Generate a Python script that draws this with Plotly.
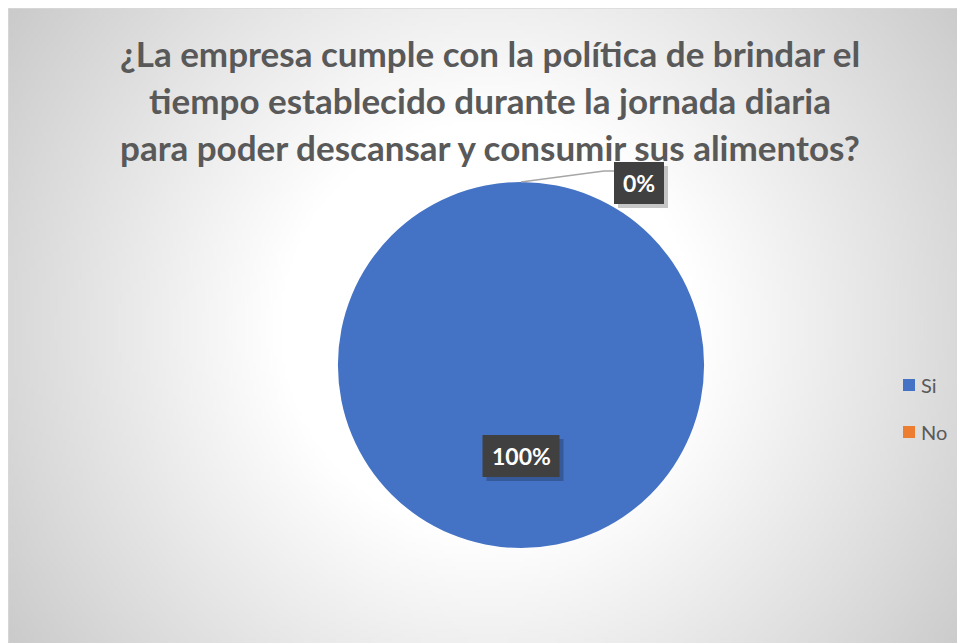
import base64
import struct
import zlib

import numpy as np
import plotly.graph_objects as go

categories = ["Si", "No"]
values = [100, 0]
colors = ["#4472C4", "#ED7D31"]
title_lines = [
    "¿La empresa cumple con la política de brindar el",
    "tiempo establecido durante la jornada diaria",
    "para poder descansar y consumir sus alimentos?",
]

# the page body has an 8px margin, so the figure starts at (8, 8)
OFF = 8
W, H = 957, 635


def gradient_png(w, h):
    # radial white-to-gray fill like the Excel chart area
    yy, xx = np.mgrid[0:h, 0:w].astype(float)
    cx, cy = w * 0.5, h * 0.5
    d = np.sqrt((xx - cx) ** 2 + (yy - cy) ** 2)
    r0, r1 = 0.22 * w, np.sqrt(cx ** 2 + cy ** 2)
    t = np.clip((d - r0) / (r1 - r0), 0, 1)
    img = (255 - 52 * t).astype(np.uint8)
    raw = b"".join(b"\x00" + row.tobytes() for row in img)

    def chunk(tag, data):
        c = struct.pack(">I", len(data)) + tag + data
        return c + struct.pack(">I", zlib.crc32(tag + data) & 0xFFFFFFFF)

    png = b"\x89PNG\r\n\x1a\n"
    png += chunk(b"IHDR", struct.pack(">IIBBBBB", w, h, 8, 0, 0, 0, 0))
    png += chunk(b"IDAT", zlib.compress(raw, 9))
    png += chunk(b"IEND", b"")
    return "data:image/png;base64," + base64.b64encode(png).decode()


def px(x):
    return (x - OFF) / W


def py(y):
    return 1 - (y - OFF) / H


fig = go.Figure(go.Pie(
    labels=categories,
    values=values,
    marker=dict(colors=colors, line=dict(width=0)),
    textinfo="none",
    sort=False,
    direction="clockwise",
    rotation=0,
    showlegend=False,
    hoverinfo="label+percent",
    domain=dict(x=[px(338), px(704)], y=[py(548), py(182)]),
))

total = sum(values)
label_pos = [(521, 456), (639, 183)]
annotations = []
for i, line in enumerate(title_lines):
    annotations.append(dict(
        text=f"<b>{line}</b>", x=px(490), y=py(53 + 47 * i),
        xref="paper", yref="paper", xanchor="center", yanchor="middle",
        showarrow=False,
        font=dict(family="Lato, sans-serif", size=35, color="#595959"),
    ))

shapes = [dict(type="path", xref="paper", yref="paper",
               path=f"M {px(521)},{py(182)} L {px(604)},{py(171)} L {px(615)},{py(171)}",
               line=dict(color="#A6A6A6", width=1.5))]

for (cx, cy), v in zip(label_pos, values):
    txt = f"{v / total:.0%}"
    bw, bh = 13.5 * len(txt) + 23, 42
    # soft shadow, then the dark label box
    for dx, fill in ((4, "rgba(0,0,0,0.22)"), (0, "#404040")):
        shapes.append(dict(type="rect", xref="paper", yref="paper",
                           x0=px(cx - bw / 2 + dx), x1=px(cx + bw / 2 + dx),
                           y0=py(cy + bh / 2 + dx), y1=py(cy - bh / 2 + dx),
                           fillcolor=fill, line=dict(width=0)))
    annotations.append(dict(
        text=f"<b>{txt}</b>", x=px(cx), y=py(cy), xref="paper", yref="paper",
        xanchor="center", yanchor="middle", showarrow=False,
        font=dict(family="Lato, sans-serif", size=23, color="white"),
    ))

# legend drawn by hand so the entries keep Excel's wide spacing
for i, (cat, col) in enumerate(zip(categories, colors)):
    yc = 385 + 47 * i
    shapes.append(dict(type="rect", xref="paper", yref="paper",
                       x0=px(903), x1=px(915), y0=py(yc + 6), y1=py(yc - 6),
                       fillcolor=col, line=dict(width=0)))
    annotations.append(dict(
        text=cat, x=px(919), y=py(yc), xref="paper", yref="paper",
        xanchor="left", yanchor="middle", showarrow=False,
        font=dict(family="Lato, sans-serif", size=20, color="#595959"),
    ))

shapes.append(dict(type="rect", xref="paper", yref="paper",
                   x0=0, x1=1.01, y0=-0.01, y1=1,
                   line=dict(color="#D9D9D9", width=1.5)))

fig.update_layout(
    width=W, height=H,
    margin=dict(l=0, r=0, t=0, b=0),
    paper_bgcolor="white",
    plot_bgcolor="rgba(0,0,0,0)",
    images=[dict(source=gradient_png(240, 160), xref="paper", yref="paper",
                 x=0, y=1, sizex=1, sizey=1,
                 xanchor="left", yanchor="top", sizing="stretch", layer="below")],
    annotations=annotations,
    shapes=shapes,
)

fig.write_html("out.html")
